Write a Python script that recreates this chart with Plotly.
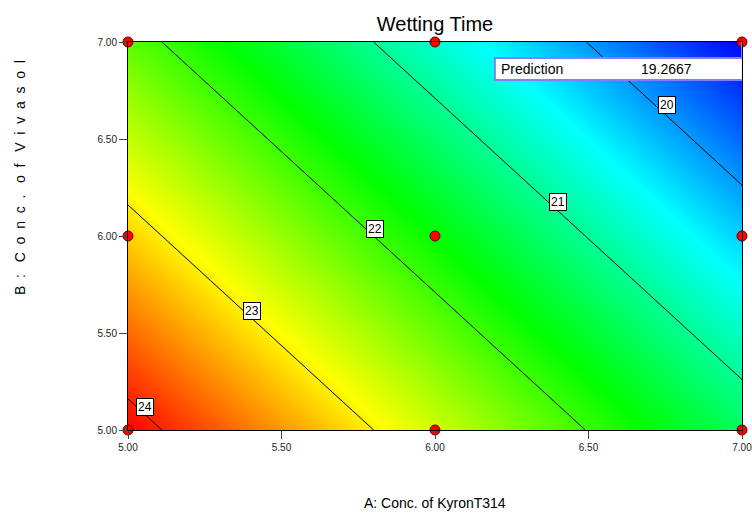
import plotly.graph_objects as go

# Design levels (factor A and B)
a_levels = [5.0, 6.0, 7.0]
b_levels = [5.0, 6.0, 7.0]
# Wetting time read at the design grid points (rows = B, cols = A)
wetting_time = [
    [24.16, 22.71, 21.26],
    [23.16, 21.71, 20.26],
    [22.16, 20.71, 19.27],
]
# Design points
pts_a = [5, 6, 7, 5, 6, 7, 5, 6, 7]
pts_b = [5, 5, 5, 6, 6, 6, 7, 7, 7]
# Contour labels
lab_text = ["20", "21", "22", "23", "24"]
lab_a = [6.756, 6.40, 5.805, 5.404, 5.055]
lab_b = [6.675, 6.175, 6.036, 5.613, 5.119]
tick_vals = [5.0, 5.5, 6.0, 6.5, 7.0]
tick_text = ["5.00", "5.50", "6.00", "6.50", "7.00"]
prediction_label = "Prediction"
prediction_value = "19.2667"
x_title = "A: Conc. of KyronT314"
y_title = "B: Conc. of Vivasol"

FONT = "Arial, Liberation Sans, sans-serif"
W, H = 752, 514
L, R, T, B = 128, 10, 42, 84
PW, PH = W - L - R, H - T - B

fig = go.Figure()
fig.add_trace(go.Contour(
    x=a_levels, y=b_levels, z=wetting_time,
    zmin=19.2667, zmax=24.16,
    colorscale=[[0, "#0000ff"], [0.25, "#00ffff"], [0.5, "#00ff00"],
                [0.75, "#ffff00"], [1, "#ff0000"]],
    contours=dict(start=20, end=24, size=1, coloring="heatmap", showlabels=False),
    line=dict(color="black", width=1),
    showscale=False, hoverinfo="skip",
))
fig.add_trace(go.Scatter(
    x=pts_a, y=pts_b, mode="markers", cliponaxis=False,
    marker=dict(symbol="circle", size=10, color="#ff0000",
                line=dict(color="#600000", width=1)),
    showlegend=False, hoverinfo="skip",
))

for t, xa, yb in zip(lab_text, lab_a, lab_b):
    fig.add_annotation(x=xa, y=yb, xref="x", yref="y", text=t, showarrow=False,
                       font=dict(family=FONT, size=12, color="black"),
                       bgcolor="white", bordercolor="black", borderwidth=1, borderpad=1)

# Prediction box
fig.add_shape(type="line", xref="x", yref="y", x0=7.0, x1=7.0, y0=7.0, y1=6.918,
              line=dict(color="#8080ff", width=2))
fig.add_shape(type="rect", xref="x", yref="y", x0=6.195, x1=7.003, y0=6.804, y1=6.918,
              fillcolor="white", line=dict(color="#8080ff", width=2), layer="above")
fig.add_annotation(x=6.21, y=6.861, xref="x", yref="y", text=prediction_label,
                   showarrow=False, xanchor="left",
                   font=dict(family=FONT, size=14, color="black"))
fig.add_annotation(x=6.98, y=6.861, xref="x", yref="y", text=prediction_value,
                   showarrow=False, xanchor="right", xshift=-42,
                   font=dict(family=FONT, size=14, color="black"))

# Axis titles
fig.add_annotation(x=0.5, y=-(503 - (H - B)) / PH, xref="paper", yref="paper",
                   yanchor="middle", text=x_title, showarrow=False,
                   font=dict(family=FONT, size=14, color="black"))
gap = "\u00a0\u00a0"
spaced = (gap + "\u00a0").join(gap.join(word) for word in y_title.split(" "))
fig.add_annotation(x=(20 - L) / PW, y=((H - B) - 178) / PH, xref="paper", yref="paper",
                   textangle=-90, text=spaced, showarrow=False,
                   xanchor="center", yanchor="middle",
                   font=dict(family=FONT, size=14, color="black"))

axis_common = dict(
    tickvals=tick_vals, ticktext=tick_text, ticks="outside", ticklen=8,
    tickcolor="#444", tickfont=dict(family=FONT, size=10, color="#222"),
    showline=True, linecolor="black", linewidth=1, mirror=True,
    showgrid=False, zeroline=False, ticklabeloverflow="allow", automargin=False,
)
fig.update_xaxes(range=[5, 7], **axis_common)
fig.update_yaxes(range=[5, 7], **axis_common)

fig.update_layout(
    width=W, height=H,
    margin=dict(l=L, r=R, t=T, b=B, autoexpand=False),
    paper_bgcolor="white", plot_bgcolor="white",
    title=dict(text="Wetting Time", x=(L + PW / 2) / W, xanchor="center",
               y=1 - 24 / H, yanchor="middle",
               font=dict(family=FONT, size=20, color="black")),
    showlegend=False,
)
fig.write_html("out.html")
